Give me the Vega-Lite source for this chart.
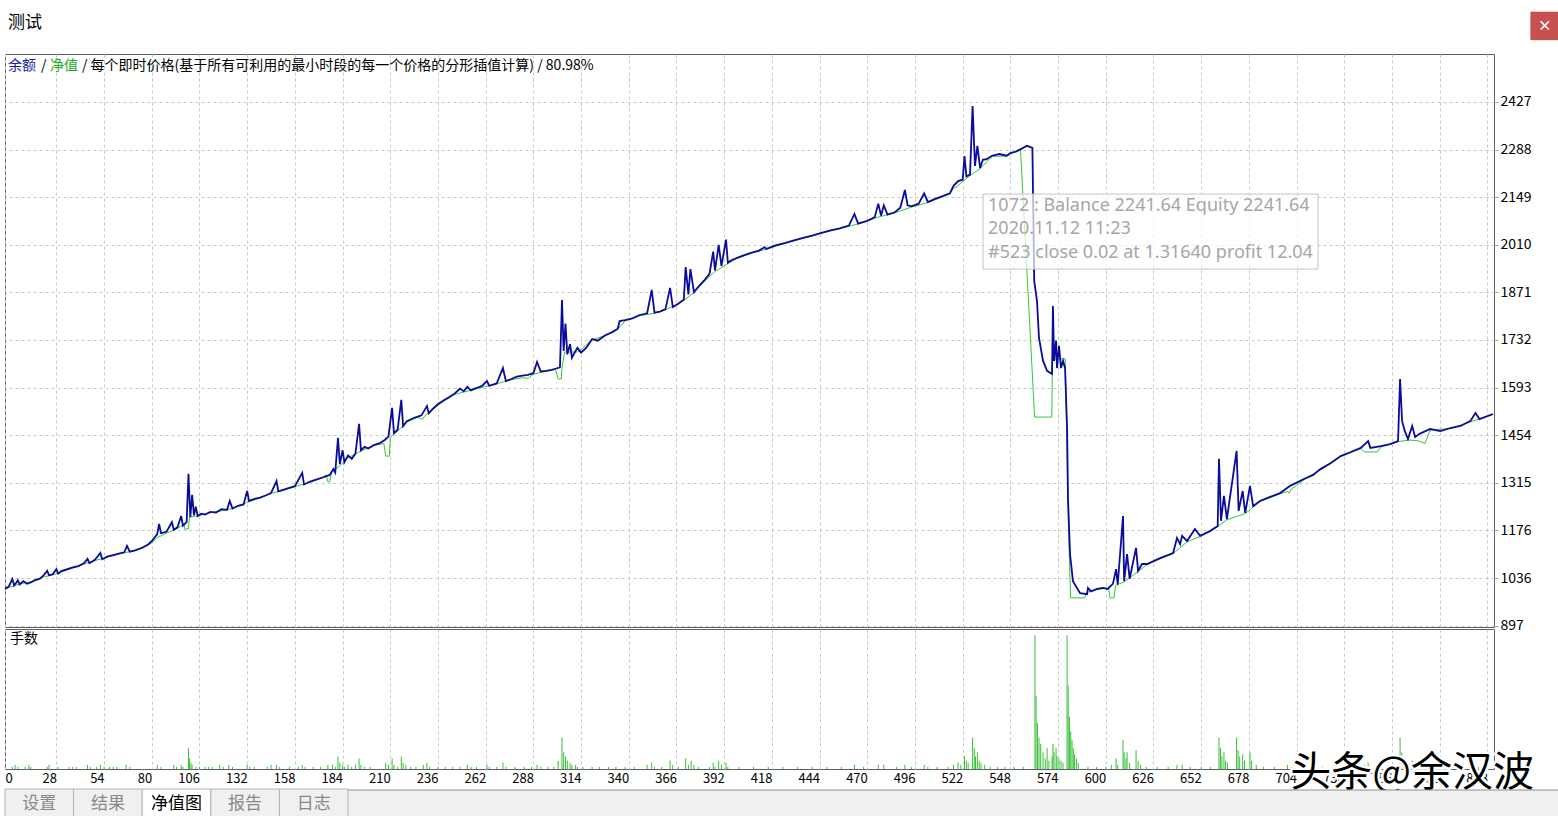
{
  "$schema": "https://vega.github.io/schema/vega-lite/v6.json",
  "background": "white",
  "padding": {"left": 0, "top": 11, "right": 0, "bottom": 0},
  "spacing": 2,
  "bounds": "flush",
  "config": {
    "font": "Noto Sans CJK SC",
    "view": {"stroke": "#606060", "strokeWidth": 1},
    "axis": {"labelFont": "Noto Sans CJK SC", "labelColor": "#000000", "domain": false, "title": null, "gridColor": "#c8c8c8", "gridDash": [3, 3], "gridWidth": 1}
  },
  "datasets": {
    "bal": [
      {"t":0,"v":1005},{"t":2,"v":1012},{"t":4,"v":1034},{"t":5,"v":1015},{"t":7,"v":1030},{"t":8,"v":1018},{"t":10,"v":1028},{"t":12,"v":1020},{"t":14,"v":1024},{"t":16,"v":1030},{"t":19,"v":1035},{"t":21,"v":1045},{"t":23,"v":1058},{"t":24,"v":1045},{"t":26,"v":1048},{"t":28,"v":1063},{"t":29,"v":1050},{"t":31,"v":1058},{"t":34,"v":1063},{"t":37,"v":1068},{"t":40,"v":1072},{"t":43,"v":1080},{"t":45,"v":1093},{"t":46,"v":1080},{"t":49,"v":1090},{"t":52,"v":1110},{"t":53,"v":1092},{"t":56,"v":1100},{"t":59,"v":1104},{"t":62,"v":1108},{"t":65,"v":1112},{"t":66.5,"v":1131},{"t":68,"v":1114},{"t":71,"v":1118},{"t":75,"v":1126},{"t":78,"v":1135},{"t":80,"v":1145},{"t":83,"v":1165},{"t":84,"v":1195},{"t":85,"v":1168},{"t":88,"v":1172},{"t":91,"v":1200},{"t":92,"v":1178},{"t":94,"v":1185},{"t":96,"v":1218},{"t":97,"v":1190},{"t":98,"v":1195},{"t":99,"v":1200},{"t":100,"v":1341},{"t":101,"v":1215},{"t":102,"v":1280},{"t":103,"v":1220},{"t":104,"v":1245},{"t":105,"v":1218},{"t":107,"v":1225},{"t":109,"v":1222},{"t":112,"v":1230},{"t":115,"v":1228},{"t":118,"v":1238},{"t":121,"v":1236},{"t":122.5,"v":1262},{"t":124,"v":1240},{"t":127,"v":1248},{"t":130,"v":1252},{"t":132,"v":1291},{"t":133,"v":1262},{"t":136,"v":1268},{"t":139,"v":1272},{"t":142,"v":1278},{"t":145,"v":1285},{"t":148,"v":1320},{"t":149,"v":1290},{"t":152,"v":1295},{"t":155,"v":1300},{"t":158,"v":1305},{"t":162,"v":1344},{"t":163,"v":1310},{"t":166,"v":1318},{"t":170,"v":1325},{"t":174,"v":1332},{"t":177,"v":1338},{"t":179,"v":1355},{"t":180,"v":1345},{"t":181.5,"v":1446},{"t":182.5,"v":1370},{"t":184,"v":1410},{"t":185,"v":1375},{"t":187,"v":1395},{"t":189,"v":1385},{"t":191,"v":1400},{"t":193,"v":1487},{"t":194,"v":1410},{"t":196,"v":1420},{"t":198,"v":1415},{"t":201,"v":1425},{"t":204,"v":1430},{"t":207,"v":1440},{"t":209,"v":1450},{"t":211,"v":1534},{"t":212,"v":1460},{"t":214,"v":1470},{"t":216,"v":1557},{"t":217,"v":1480},{"t":219,"v":1495},{"t":221,"v":1500},{"t":223,"v":1505},{"t":225,"v":1508},{"t":227,"v":1512},{"t":230,"v":1539},{"t":231,"v":1518},{"t":233,"v":1530},{"t":236,"v":1545},{"t":239,"v":1555},{"t":242,"v":1565},{"t":245,"v":1575},{"t":248,"v":1590},{"t":250,"v":1582},{"t":252,"v":1595},{"t":254,"v":1585},{"t":256,"v":1590},{"t":258,"v":1594},{"t":260,"v":1598},{"t":262.7,"v":1612},{"t":264,"v":1598},{"t":266,"v":1602},{"t":268,"v":1605},{"t":271.4,"v":1650},{"t":273,"v":1612},{"t":276,"v":1618},{"t":279,"v":1625},{"t":282,"v":1628},{"t":285,"v":1630},{"t":288,"v":1635},{"t":290,"v":1668},{"t":292,"v":1640},{"t":295,"v":1642},{"t":298,"v":1645},{"t":300,"v":1648},{"t":302.5,"v":1652},{"t":303.6,"v":1849},{"t":304.5,"v":1700},{"t":305.5,"v":1780},{"t":306.5,"v":1690},{"t":308,"v":1720},{"t":309,"v":1680},{"t":311,"v":1700},{"t":312,"v":1709},{"t":314,"v":1695},{"t":317,"v":1710},{"t":320,"v":1735},{"t":323,"v":1730},{"t":327,"v":1745},{"t":331,"v":1755},{"t":334,"v":1765},{"t":335,"v":1787},{"t":338,"v":1790},{"t":342,"v":1795},{"t":346,"v":1805},{"t":350,"v":1810},{"t":352.5,"v":1878},{"t":354,"v":1812},{"t":357,"v":1815},{"t":360,"v":1822},{"t":362.5,"v":1884},{"t":364,"v":1828},{"t":367,"v":1838},{"t":370,"v":1850},{"t":371,"v":1945},{"t":372.5,"v":1865},{"t":373.6,"v":1939},{"t":375.5,"v":1872},{"t":378,"v":1888},{"t":381,"v":1905},{"t":384,"v":1925},{"t":386,"v":1990},{"t":387,"v":1935},{"t":389,"v":2010},{"t":390.5,"v":1948},{"t":393,"v":2025},{"t":394,"v":1958},{"t":396,"v":1965},{"t":399,"v":1972},{"t":403,"v":1980},{"t":407,"v":1987},{"t":411,"v":1993},{"t":414,"v":2003},{"t":415,"v":1998},{"t":420,"v":2008},{"t":425,"v":2015},{"t":430,"v":2023},{"t":435,"v":2030},{"t":440,"v":2037},{"t":445,"v":2045},{"t":450,"v":2052},{"t":455,"v":2058},{"t":460,"v":2066},{"t":463,"v":2100},{"t":465,"v":2072},{"t":470,"v":2080},{"t":474,"v":2090},{"t":476,"v":2130},{"t":477.5,"v":2095},{"t":479,"v":2125},{"t":481,"v":2098},{"t":485,"v":2105},{"t":488,"v":2118},{"t":490.5,"v":2170},{"t":492,"v":2125},{"t":494,"v":2122},{"t":498,"v":2130},{"t":501,"v":2160},{"t":503,"v":2135},{"t":506,"v":2142},{"t":510,"v":2150},{"t":515,"v":2160},{"t":517,"v":2182},{"t":519.5,"v":2196},{"t":522,"v":2200},{"t":523,"v":2269},{"t":524,"v":2210},{"t":526,"v":2215},{"t":527.4,"v":2415},{"t":528.7,"v":2240},{"t":530,"v":2299},{"t":531.5,"v":2234},{"t":533,"v":2258},{"t":535,"v":2260},{"t":538,"v":2270},{"t":542,"v":2275},{"t":546,"v":2270},{"t":548,"v":2278},{"t":551,"v":2282},{"t":554,"v":2290},{"t":557,"v":2299},{"t":560,"v":2293},{"t":560.5,"v":2100},{"t":561,"v":1904},{"t":562.5,"v":1846},{"t":563.6,"v":1738},{"t":565.8,"v":1671},{"t":568,"v":1642},{"t":570.7,"v":1633},{"t":571.2,"v":1831},{"t":571.8,"v":1671},{"t":572.9,"v":1730},{"t":573.4,"v":1650},{"t":574.5,"v":1715},{"t":575.6,"v":1650},{"t":576.7,"v":1671},{"t":577.8,"v":1650},{"t":578.9,"v":1475},{"t":579.4,"v":1271},{"t":580.5,"v":1107},{"t":582.1,"v":1028},{"t":586,"v":993},{"t":589.8,"v":990},{"t":590.3,"v":1008},{"t":592,"v":998},{"t":595.2,"v":1005},{"t":598.5,"v":1008},{"t":601,"v":1005},{"t":603.9,"v":1020},{"t":605.6,"v":1063},{"t":606.5,"v":1018},{"t":609.4,"v":1218},{"t":610,"v":1028},{"t":611.6,"v":1107},{"t":613,"v":1035},{"t":616.5,"v":1125},{"t":617.6,"v":1058},{"t":619.8,"v":1078},{"t":622.5,"v":1078},{"t":629.6,"v":1095},{"t":636.7,"v":1110},{"t":638.8,"v":1154},{"t":640.5,"v":1136},{"t":641.6,"v":1160},{"t":644.3,"v":1145},{"t":648.6,"v":1180},{"t":651.4,"v":1160},{"t":656.8,"v":1174},{"t":661,"v":1189},{"t":661.7,"v":1385},{"t":662.8,"v":1204},{"t":664.4,"v":1277},{"t":666,"v":1209},{"t":671.3,"v":1408},{"t":672.4,"v":1233},{"t":674.6,"v":1291},{"t":676,"v":1227},{"t":678.6,"v":1306},{"t":680.3,"v":1247},{"t":684,"v":1262},{"t":689.6,"v":1274},{"t":695,"v":1285},{"t":700.5,"v":1306},{"t":708,"v":1326},{"t":713,"v":1338},{"t":717,"v":1355},{"t":722.7,"v":1373},{"t":728,"v":1393},{"t":733.6,"v":1405},{"t":739,"v":1417},{"t":743,"v":1437},{"t":744.2,"v":1417},{"t":750,"v":1422},{"t":755,"v":1428},{"t":759.3,"v":1437},{"t":760.4,"v":1618},{"t":761.5,"v":1495},{"t":763,"v":1466},{"t":764.7,"v":1443},{"t":767,"v":1481},{"t":768.6,"v":1449},{"t":771,"v":1458},{"t":776.8,"v":1472},{"t":782.4,"v":1466},{"t":787.8,"v":1475},{"t":793.3,"v":1481},{"t":798.7,"v":1495},{"t":801.5,"v":1519},{"t":803.7,"v":1501},{"t":811,"v":1516}
    ],
    "eq": [
      {"t":0,"v":1005},{"t":5,"v":1015},{"t":10,"v":1022},{"t":16,"v":1028},{"t":21,"v":1040},{"t":26,"v":1046},{"t":31,"v":1055},{"t":37,"v":1066},{"t":43,"v":1078},{"t":49,"v":1088},{"t":56,"v":1098},{"t":62,"v":1107},{"t":68,"v":1114},{"t":75,"v":1124},{"t":80,"v":1140},{"t":83,"v":1155},{"t":85,"v":1160},{"t":88,"v":1168},{"t":92,"v":1176},{"t":96.5,"v":1190},{"t":97.5,"v":1195},{"t":98,"v":1180},{"t":100,"v":1180},{"t":100.5,"v":1215},{"t":105,"v":1218},{"t":112,"v":1228},{"t":121,"v":1236},{"t":127,"v":1246},{"t":133,"v":1260},{"t":139,"v":1271},{"t":145,"v":1284},{"t":152,"v":1294},{"t":158,"v":1304},{"t":166,"v":1316},{"t":172,"v":1328},{"t":175,"v":1338},{"t":176,"v":1318},{"t":177,"v":1318},{"t":178,"v":1345},{"t":182.5,"v":1365},{"t":187,"v":1388},{"t":194,"v":1408},{"t":201,"v":1424},{"t":206.5,"v":1430},{"t":207.5,"v":1393},{"t":209.5,"v":1393},{"t":210,"v":1448},{"t":214,"v":1466},{"t":219,"v":1492},{"t":225,"v":1506},{"t":227.5,"v":1500},{"t":229,"v":1512},{"t":233,"v":1528},{"t":239,"v":1553},{"t":245,"v":1573},{"t":250,"v":1580},{"t":256,"v":1588},{"t":262,"v":1596},{"t":268,"v":1604},{"t":276,"v":1616},{"t":282,"v":1622},{"t":285,"v":1620},{"t":288,"v":1632},{"t":295,"v":1641},{"t":300,"v":1647},{"t":301.5,"v":1618},{"t":303.2,"v":1618},{"t":303.6,"v":1650},{"t":305,"v":1697},{"t":312,"v":1697},{"t":313,"v":1700},{"t":320,"v":1732},{"t":327,"v":1745},{"t":334,"v":1763},{"t":338,"v":1788},{"t":346,"v":1803},{"t":354,"v":1810},{"t":360,"v":1820},{"t":366,"v":1835},{"t":370,"v":1848},{"t":375,"v":1868},{"t":381,"v":1902},{"t":387,"v":1932},{"t":394,"v":1955},{"t":399,"v":1970},{"t":407,"v":1986},{"t":415,"v":1997},{"t":425,"v":2014},{"t":435,"v":2029},{"t":445,"v":2044},{"t":455,"v":2057},{"t":465,"v":2071},{"t":474,"v":2088},{"t":485,"v":2103},{"t":494,"v":2120},{"t":503,"v":2133},{"t":510,"v":2148},{"t":515,"v":2158},{"t":517,"v":2175},{"t":519,"v":2180},{"t":522,"v":2195},{"t":526,"v":2212},{"t":531.5,"v":2232},{"t":538,"v":2268},{"t":546,"v":2269},{"t":553,"v":2288},{"t":553.5,"v":2290},{"t":561.2,"v":1507},{"t":570.6,"v":1507},{"t":570.9,"v":1677},{"t":577.9,"v":1677},{"t":579.6,"v":1200},{"t":580.8,"v":979},{"t":588.5,"v":979},{"t":589.5,"v":995},{"t":595.2,"v":1003},{"t":601.5,"v":1008},{"t":602.3,"v":979},{"t":604.5,"v":979},{"t":605.3,"v":1015},{"t":610,"v":1026},{"t":617.6,"v":1056},{"t":622.5,"v":1076},{"t":629.6,"v":1093},{"t":636.7,"v":1108},{"t":644.3,"v":1143},{"t":651.4,"v":1158},{"t":661,"v":1187},{"t":666,"v":1207},{"t":676,"v":1225},{"t":684,"v":1260},{"t":695,"v":1283},{"t":699,"v":1290},{"t":700,"v":1285},{"t":701,"v":1296},{"t":708,"v":1324},{"t":717,"v":1353},{"t":728,"v":1391},{"t":739,"v":1415},{"t":741,"v":1405},{"t":748,"v":1405},{"t":750,"v":1420},{"t":759.3,"v":1435},{"t":765,"v":1440},{"t":770,"v":1438},{"t":774,"v":1430},{"t":776.8,"v":1470},{"t":787.8,"v":1473},{"t":798.7,"v":1493},{"t":811,"v":1514}
    ],
    "lots": [
      {"t":4,"lot":0.01},{"t":5.5,"lot":0.02},{"t":7,"lot":0.01},{"t":11,"lot":0.01},{"t":13,"lot":0.02},{"t":14,"lot":0.01},{"t":23,"lot":0.01},{"t":24,"lot":0.02},{"t":29,"lot":0.01},{"t":35,"lot":0.01},{"t":37,"lot":0.01},{"t":39,"lot":0.01},{"t":45,"lot":0.02},{"t":46.5,"lot":0.01},{"t":50,"lot":0.01},{"t":52,"lot":0.02},{"t":54,"lot":0.01},{"t":57,"lot":0.01},{"t":59,"lot":0.01},{"t":61,"lot":0.01},{"t":66,"lot":0.02},{"t":68,"lot":0.01},{"t":83,"lot":0.02},{"t":85,"lot":0.01},{"t":92,"lot":0.02},{"t":93.5,"lot":0.01},{"t":96,"lot":0.02},{"t":97,"lot":0.01},{"t":100,"lot":0.1},{"t":100.6,"lot":0.05},{"t":101.3,"lot":0.03},{"t":102,"lot":0.02},{"t":104,"lot":0.01},{"t":106,"lot":0.01},{"t":109,"lot":0.01},{"t":111,"lot":0.01},{"t":113,"lot":0.01},{"t":117,"lot":0.02},{"t":119,"lot":0.01},{"t":122,"lot":0.02},{"t":124,"lot":0.01},{"t":132,"lot":0.02},{"t":133.5,"lot":0.01},{"t":136,"lot":0.01},{"t":143,"lot":0.01},{"t":145,"lot":0.02},{"t":148,"lot":0.02},{"t":149.5,"lot":0.01},{"t":155,"lot":0.01},{"t":160,"lot":0.01},{"t":162,"lot":0.02},{"t":163.5,"lot":0.01},{"t":168,"lot":0.01},{"t":172,"lot":0.01},{"t":176,"lot":0.02},{"t":178.5,"lot":0.02},{"t":180,"lot":0.01},{"t":181.5,"lot":0.06},{"t":182.5,"lot":0.03},{"t":184,"lot":0.02},{"t":185,"lot":0.01},{"t":187,"lot":0.02},{"t":189,"lot":0.01},{"t":191,"lot":0.02},{"t":193,"lot":0.05},{"t":194,"lot":0.02},{"t":196,"lot":0.01},{"t":199,"lot":0.01},{"t":207.5,"lot":0.03},{"t":209,"lot":0.02},{"t":211,"lot":0.05},{"t":212,"lot":0.02},{"t":214,"lot":0.01},{"t":216,"lot":0.06},{"t":217,"lot":0.03},{"t":218.5,"lot":0.02},{"t":221,"lot":0.01},{"t":224,"lot":0.01},{"t":228,"lot":0.02},{"t":230,"lot":0.03},{"t":231.5,"lot":0.01},{"t":236,"lot":0.01},{"t":240,"lot":0.01},{"t":244,"lot":0.01},{"t":248,"lot":0.01},{"t":252,"lot":0.02},{"t":254,"lot":0.01},{"t":257,"lot":0.01},{"t":262.7,"lot":0.02},{"t":264,"lot":0.01},{"t":268,"lot":0.01},{"t":271.4,"lot":0.03},{"t":273,"lot":0.01},{"t":278,"lot":0.01},{"t":283,"lot":0.01},{"t":287,"lot":0.01},{"t":290,"lot":0.02},{"t":292,"lot":0.01},{"t":296,"lot":0.01},{"t":299,"lot":0.01},{"t":301.5,"lot":0.04},{"t":303.6,"lot":0.15},{"t":304.5,"lot":0.08},{"t":305.5,"lot":0.06},{"t":306.5,"lot":0.04},{"t":308,"lot":0.03},{"t":309,"lot":0.02},{"t":311,"lot":0.02},{"t":312,"lot":0.01},{"t":315,"lot":0.01},{"t":320,"lot":0.01},{"t":324,"lot":0.01},{"t":329,"lot":0.01},{"t":333,"lot":0.01},{"t":338,"lot":0.01},{"t":343,"lot":0.01},{"t":350,"lot":0.02},{"t":352.5,"lot":0.03},{"t":354,"lot":0.01},{"t":358,"lot":0.01},{"t":362.5,"lot":0.04},{"t":364,"lot":0.02},{"t":367,"lot":0.01},{"t":371,"lot":0.05},{"t":372.5,"lot":0.02},{"t":374,"lot":0.04},{"t":375.5,"lot":0.02},{"t":378,"lot":0.01},{"t":384,"lot":0.01},{"t":386,"lot":0.03},{"t":387,"lot":0.01},{"t":389,"lot":0.04},{"t":390.5,"lot":0.02},{"t":393,"lot":0.03},{"t":394,"lot":0.01},{"t":400,"lot":0.01},{"t":408,"lot":0.01},{"t":416,"lot":0.01},{"t":424,"lot":0.01},{"t":432,"lot":0.01},{"t":440,"lot":0.01},{"t":448,"lot":0.01},{"t":456,"lot":0.01},{"t":463,"lot":0.02},{"t":468,"lot":0.01},{"t":476,"lot":0.02},{"t":479,"lot":0.02},{"t":486,"lot":0.01},{"t":490.5,"lot":0.02},{"t":494,"lot":0.01},{"t":501,"lot":0.02},{"t":503,"lot":0.01},{"t":508,"lot":0.01},{"t":514,"lot":0.01},{"t":517,"lot":0.02},{"t":519.5,"lot":0.03},{"t":521,"lot":0.02},{"t":523,"lot":0.06},{"t":524,"lot":0.04},{"t":525,"lot":0.03},{"t":527.4,"lot":0.15},{"t":528.3,"lot":0.1},{"t":529,"lot":0.06},{"t":530,"lot":0.08},{"t":531,"lot":0.04},{"t":532,"lot":0.03},{"t":534,"lot":0.02},{"t":537,"lot":0.01},{"t":541,"lot":0.01},{"t":545,"lot":0.01},{"t":550,"lot":0.01},{"t":555,"lot":0.01},{"t":561.4,"lot":0.64},{"t":562,"lot":0.35},{"t":562.8,"lot":0.22},{"t":563.6,"lot":0.15},{"t":564.5,"lot":0.12},{"t":565.8,"lot":0.08},{"t":567,"lot":0.05},{"t":568,"lot":0.1},{"t":569,"lot":0.04},{"t":570.7,"lot":0.06},{"t":571.2,"lot":0.12},{"t":571.8,"lot":0.08},{"t":572.9,"lot":0.1},{"t":573.4,"lot":0.06},{"t":574.5,"lot":0.05},{"t":575.6,"lot":0.04},{"t":576.7,"lot":0.03},{"t":578.9,"lot":0.64},{"t":579.5,"lot":0.4},{"t":580.2,"lot":0.25},{"t":580.9,"lot":0.18},{"t":581.6,"lot":0.14},{"t":582.3,"lot":0.1},{"t":583,"lot":0.07},{"t":584,"lot":0.05},{"t":585,"lot":0.03},{"t":590.3,"lot":0.01},{"t":595,"lot":0.01},{"t":600,"lot":0.01},{"t":603,"lot":0.02},{"t":605.6,"lot":0.05},{"t":606.5,"lot":0.02},{"t":609.4,"lot":0.14},{"t":610,"lot":0.08},{"t":611,"lot":0.05},{"t":611.6,"lot":0.08},{"t":613,"lot":0.03},{"t":616.5,"lot":0.09},{"t":617.6,"lot":0.04},{"t":619,"lot":0.02},{"t":622,"lot":0.01},{"t":628,"lot":0.01},{"t":634,"lot":0.01},{"t":638.8,"lot":0.02},{"t":641.6,"lot":0.02},{"t":646,"lot":0.01},{"t":652,"lot":0.01},{"t":657,"lot":0.01},{"t":661.7,"lot":0.15},{"t":662.5,"lot":0.1},{"t":663.3,"lot":0.06},{"t":664.4,"lot":0.08},{"t":665.3,"lot":0.04},{"t":666.3,"lot":0.03},{"t":671.3,"lot":0.15},{"t":672.1,"lot":0.09},{"t":673,"lot":0.06},{"t":674.6,"lot":0.07},{"t":675.6,"lot":0.04},{"t":678.6,"lot":0.08},{"t":679.5,"lot":0.04},{"t":682,"lot":0.02},{"t":686,"lot":0.01},{"t":692,"lot":0.01},{"t":699,"lot":0.02},{"t":701,"lot":0.01},{"t":706,"lot":0.01},{"t":712,"lot":0.01},{"t":718,"lot":0.01},{"t":724,"lot":0.01},{"t":730,"lot":0.01},{"t":735,"lot":0.01},{"t":741,"lot":0.02},{"t":743,"lot":0.03},{"t":745,"lot":0.01},{"t":750,"lot":0.01},{"t":756,"lot":0.01},{"t":760.4,"lot":0.15},{"t":761.3,"lot":0.08},{"t":762.3,"lot":0.05},{"t":763.3,"lot":0.04},{"t":764.7,"lot":0.03},{"t":767,"lot":0.04},{"t":768,"lot":0.02},{"t":771,"lot":0.01},{"t":774,"lot":0.02},{"t":777,"lot":0.01},{"t":782,"lot":0.01},{"t":788,"lot":0.01},{"t":794,"lot":0.01},{"t":801.5,"lot":0.02},{"t":803,"lot":0.01},{"t":808,"lot":0.01}
    ]
  },
  "vconcat": [
    {
      "width": 1489,
      "height": 573,
      "layer": [
        {
          "data": {"name": "eq"},
          "mark": {"type": "line", "color": "#33c833", "strokeWidth": 1},
          "encoding": {
            "x": {"field": "t", "type": "quantitative", "scale": {"domain": [0, 811.6], "nice": false, "zero": false},
              "axis": {"values": [0,28,54,80,106,132,158,184,210,236,262,288,314,340,366,392,418,444,470,496,522,548,574,600,626,652,678,704,730,756,782,808], "labels": false, "ticks": false, "grid": true}},
            "y": {"field": "v", "type": "quantitative", "scale": {"domain": [894, 2567], "nice": false, "zero": false},
              "axis": {"orient": "right", "values": [897,1036,1176,1315,1454,1593,1732,1871,2010,2149,2288,2427], "format": "d", "grid": true, "tickSize": 4, "tickColor": "#a0a0a0", "labelPadding": 2, "labelFontSize": 14}}
          }
        },
        {
          "data": {"name": "bal"},
          "mark": {"type": "line", "color": "#0b0b9c", "strokeWidth": 1.8},
          "encoding": {
            "x": {"field": "t", "type": "quantitative"},
            "y": {"field": "v", "type": "quantitative"}
          }
        },
        {
          "data": {"values": [{"label": "测试"}]},
          "mark": {"type": "text", "align": "left", "baseline": "middle", "dx": 3, "fontSize": 17, "color": "#000000"},
          "encoding": {"x": {"datum": 0, "type": "quantitative"}, "y": {"datum": 2658, "type": "quantitative"}, "text": {"field": "label"}}
        },
        {
          "data": {"values": [{"label": "余额"}]},
          "mark": {"type": "text", "align": "left", "baseline": "middle", "dx": 3, "fontSize": 14, "color": "#1a1aa6"},
          "encoding": {"x": {"datum": 0, "type": "quantitative"}, "y": {"datum": 2532, "type": "quantitative"}, "text": {"field": "label"}}
        },
        {
          "data": {"values": [{"label": "/"}]},
          "mark": {"type": "text", "align": "left", "baseline": "middle", "dx": 36, "fontSize": 14, "color": "#000000"},
          "encoding": {"x": {"datum": 0, "type": "quantitative"}, "y": {"datum": 2532, "type": "quantitative"}, "text": {"field": "label"}}
        },
        {
          "data": {"values": [{"label": "净值"}]},
          "mark": {"type": "text", "align": "left", "baseline": "middle", "dx": 45, "fontSize": 14, "color": "#22aa22"},
          "encoding": {"x": {"datum": 0, "type": "quantitative"}, "y": {"datum": 2532, "type": "quantitative"}, "text": {"field": "label"}}
        },
        {
          "data": {"values": [{"label": "/ 每个即时价格(基于所有可利用的最小时段的每一个价格的分形插值计算) / 80.98%"}]},
          "mark": {"type": "text", "align": "left", "baseline": "middle", "dx": 77, "fontSize": 14, "color": "#000000"},
          "encoding": {"x": {"datum": 0, "type": "quantitative"}, "y": {"datum": 2532, "type": "quantitative"}, "text": {"field": "label"}}
        },
        {
          "data": {"values": [{"note": "tooltip"}]},
          "mark": {"type": "rect", "fill": "#ffffff", "fillOpacity": 0.7, "stroke": "#c4c4c4", "strokeWidth": 1},
          "encoding": {"x": {"datum": 533.1, "type": "quantitative"}, "x2": {"datum": 715.7}, "y": {"datum": 2158, "type": "quantitative"}, "y2": {"datum": 1939}}
        },
        {
          "data": {"values": [{"label": "1072 : Balance 2241.64 Equity 2241.64\n2020.11.12 11:23\n#523 close 0.02 at 1.31640 profit 12.04"}]},
          "mark": {"type": "text", "align": "left", "baseline": "top", "lineBreak": "\n", "lineHeight": 23.5, "dx": 5, "font": "Noto Sans", "fontSize": 18, "color": "#a6a6a6"},
          "encoding": {"x": {"datum": 533.1, "type": "quantitative"}, "y": {"datum": 2150, "type": "quantitative"}, "text": {"field": "label"}}
        },
        {
          "data": {"values": [{"label": "×"}]},
          "mark": {"type": "point", "shape": "square", "filled": true, "size": 810, "color": "#c75050", "opacity": 1},
          "encoding": {"x": {"datum": 839.2, "type": "quantitative"}, "y": {"datum": 2649, "type": "quantitative"}}
        },
        {
          "data": {"values": [{"label": "×"}]},
          "mark": {"type": "text", "align": "center", "baseline": "middle", "fontSize": 14, "fontWeight": "bold", "color": "#ffffff"},
          "encoding": {"x": {"datum": 839.2, "type": "quantitative"}, "y": {"datum": 2649, "type": "quantitative"}, "text": {"field": "label"}}
        }
      ]
    },
    {
      "width": 1489,
      "height": 140,
      "layer": [
        {
          "data": {"name": "lots"},
          "mark": {"type": "rule", "color": "#36c236", "strokeWidth": 1},
          "encoding": {
            "x": {"field": "t", "type": "quantitative", "scale": {"domain": [0, 811.6], "nice": false, "zero": false},
              "axis": {"values": [0,28,54,80,106,132,158,184,210,236,262,288,314,340,366,392,418,444,470,496,522,548,574,600,626,652,678,704,730,756,782,808], "grid": true, "ticks": false, "labelPadding": 3, "labelFontSize": 13, "labelFlush": false, "labelBound": false,
                "labelAlign": {"condition": {"test": "datum.value === 0", "value": "left"}, "value": "right"}}},
            "y": {"field": "lot", "type": "quantitative", "scale": {"domain": [0, 0.67], "nice": false}, "axis": null},
            "y2": {"datum": 0}
          }
        },
        {
          "data": {"values": [{"label": "手数"}]},
          "mark": {"type": "text", "align": "left", "baseline": "top", "dx": 5, "dy": 3, "fontSize": 14, "color": "#000000"},
          "encoding": {"x": {"datum": 0, "type": "quantitative"}, "y": {"datum": 0.67, "type": "quantitative"}, "text": {"field": "label"}}
        },
        {
          "data": {"values": [{"label": "头条@余汉波"}]},
          "mark": {"type": "text", "align": "left", "baseline": "middle", "dy": 5, "fontSize": 41, "color": "#ffffff", "stroke": "#ffffff", "strokeWidth": 5},
          "encoding": {"x": {"datum": 700.5, "type": "quantitative"}, "y": {"datum": 0, "type": "quantitative"}, "text": {"field": "label"}}
        },
        {
          "data": {"values": [{"label": "头条@余汉波"}]},
          "mark": {"type": "text", "align": "left", "baseline": "middle", "dy": 5, "fontSize": 41, "color": "#000000"},
          "encoding": {"x": {"datum": 700.5, "type": "quantitative"}, "y": {"datum": 0, "type": "quantitative"}, "text": {"field": "label"}}
        }
      ]
    },
    {
      "width": 1553,
      "height": 46,
      "view": {"stroke": null},
      "layer": [
        {
          "data": {"values": [{"part": "strip"}]},
          "mark": {"type": "rect", "fill": "#f0f0f0"},
          "encoding": {"y": {"datum": 0, "type": "quantitative", "scale": {"domain": [0, 46], "nice": false}, "axis": null}, "y2": {"datum": 27}}
        },
        {
          "data": {"values": [{"part": "line"}]},
          "mark": {"type": "rule", "color": "#8c8c8c", "strokeWidth": 1},
          "encoding": {"y": {"datum": 27, "type": "quantitative"}}
        },
        {
          "data": {"values": [{"tab": "设置", "on": 0}, {"tab": "结果", "on": 0}, {"tab": "净值图", "on": 1}, {"tab": "报告", "on": 0}, {"tab": "日志", "on": 0}]},
          "mark": {"type": "rect", "stroke": "#b4b4b4", "strokeWidth": 1},
          "encoding": {
            "x": {"field": "tab", "type": "nominal", "sort": null, "scale": {"range": [0, 343], "paddingInner": 0, "paddingOuter": 0}, "axis": null},
            "y": {"datum": 0, "type": "quantitative"}, "y2": {"datum": 28},
            "fill": {"field": "on", "type": "nominal", "scale": {"domain": [0, 1], "range": ["#f0f0f0", "#ffffff"]}, "legend": null}
          }
        },
        {
          "data": {"values": [{"tab": "设置", "on": 0}, {"tab": "结果", "on": 0}, {"tab": "净值图", "on": 1}, {"tab": "报告", "on": 0}, {"tab": "日志", "on": 0}]},
          "mark": {"type": "text", "fontSize": 17, "baseline": "middle"},
          "encoding": {
            "x": {"field": "tab", "type": "nominal", "sort": null},
            "y": {"datum": 13, "type": "quantitative"},
            "text": {"field": "tab"},
            "color": {"field": "on", "type": "nominal", "scale": {"domain": [0, 1], "range": ["#888888", "#000000"]}, "legend": null}
          }
        }
      ]
    }
  ]
}
